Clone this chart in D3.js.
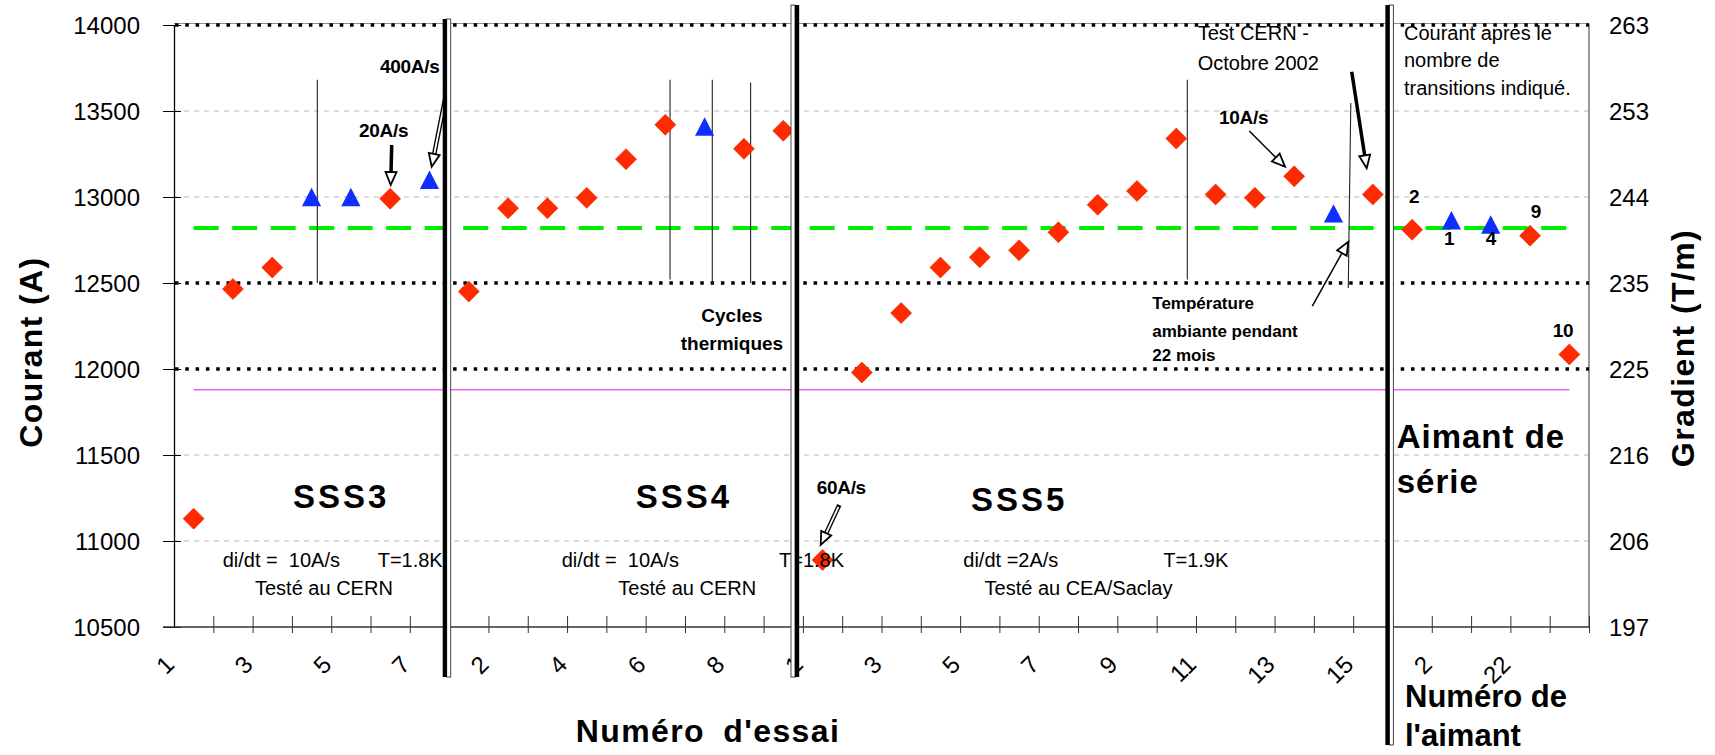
<!DOCTYPE html>
<html lang="fr">
<head>
<meta charset="UTF-8">
<title>Courant de transition SSS3 / SSS4 / SSS5</title>
<script src="https://cdn.jsdelivr.net/npm/d3@7"></script>
<style>
    body { margin: 0; background: #ffffff; }
    svg { display: block; font-family: Arial, "Liberation Sans", sans-serif; }
    .tick text { font-size: 24px; fill: #000; }
    .note { font-size: 20px; white-space: pre; }
    .ann { font-size: 19px; font-weight: bold; letter-spacing: -0.3px; }
    .title { font-size: 32px; font-weight: bold; letter-spacing: 1.4px; }
</style>
</head>
<body>
<div id="chart"></div>
<script>

// --- data -----------------------------------------------------------
// x categories: test number inside each prototype, then series magnets
const sss3Labels  = ["1", "2", "3", "4", "5", "6", "7"];
const sss4Labels  = ["1", "2", "3", "4", "5", "6", "7", "8", "9"];
const sss5Labels  = ["1", "2", "3", "4", "5", "6", "7", "8", "9", "10", "11", "12", "13", "14", "15"];
const serieLabels = ["", "2", "", "22", ""];

// quench current (A), diamonds and triangles
const sss3Diamonds  = [11130, 12465, 12590, null, null, 12990, null];
const sss3Triangles = [null, null, null, 13000, 13000, null, 13100];
const sss4Diamonds  = [12450, 12935, 12935, 12995, 13220, 13420, null, 13280, 13385];
const sss4Triangles = [null, null, null, null, null, null, 13410, null, null];
const sss5Diamonds  = [10890, 11980, 12325, 12590, 12650, 12690, 12795, 12955, 13035, 13340, 13015, 12995, 13120, null, 13015];
const sss5Triangles = [null, null, null, null, null, null, null, null, null, null, null, null, null, 12905, null];
const serieDiamonds  = [12810, null, null, 12775, 12085];
const serieTriangles = [null, 12865, 12840, null, null];

// horizontal reference levels (A)
const nominalCurrent = 12820;
const lowerLevel = 11880;

// axis ticks
const currentTicks   = [10500, 11000, 11500, 12000, 12500, 13000, 13500, 14000];
const gradientLabels = ["197", "206", "216", "225", "235", "244", "253", "263"];
const dottedLevels   = [12000, 12500, 14000];
const lightLevels    = [11000, 11500, 13000, 13500];

// --- layout -----------------------------------------------------------
const width = 1715;
const height = 755;
const plotLeft = 174, plotRight = 1589, plotTop = 25, plotBottom = 627;

const xLabels   = [].concat(sss3Labels, sss4Labels, sss5Labels, serieLabels);
const diamonds  = [].concat(sss3Diamonds, sss4Diamonds, sss5Diamonds, serieDiamonds);
const triangles = [].concat(sss3Triangles, sss4Triangles, sss5Triangles, serieTriangles);
const n = xLabels.length;

const svg = d3.select('#chart')
    .append('svg')
    .attr('width', width)
    .attr('height', height);

svg.append('rect').attr('width', width).attr('height', height).attr('fill', '#ffffff');

const x = d3.scaleBand().domain(d3.range(n)).range([plotLeft, plotRight]).padding(0);
const xu = d3.scaleLinear().domain([0, n]).range([plotLeft, plotRight]);   // annotation positions
const y = d3.scaleLinear().domain([10500, 14000]).range([plotBottom, plotTop]);
const cx = (i) => x(i) + x.bandwidth() / 2;

// grid
svg.append('g').selectAll('line').data(lightLevels).join('line')
    .attr('x1', plotLeft).attr('x2', plotRight)
    .attr('y1', d => y(d)).attr('y2', d => y(d))
    .attr('stroke', '#b8b8b8').attr('stroke-width', 1).attr('stroke-dasharray', '5,5');

svg.append('line')
    .attr('x1', plotLeft).attr('x2', plotRight)
    .attr('y1', y(14000) - 1.5).attr('y2', y(14000) - 1.5)
    .attr('stroke', '#909090').attr('stroke-width', 1);
svg.append('line')
    .attr('x1', plotRight).attr('x2', plotRight)
    .attr('y1', y(14000) - 1.5).attr('y2', y(10500))
    .attr('stroke', '#555566').attr('stroke-width', 1.2);

svg.append('g').selectAll('line').data(dottedLevels).join('line')
    .attr('x1', plotLeft + 1).attr('x2', plotRight)
    .attr('y1', d => y(d)).attr('y2', d => y(d))
    .attr('stroke', '#000').attr('stroke-width', 3.5).attr('stroke-dasharray', '3.5,6.8');

// reference lines across all categories
svg.append('line')
    .attr('x1', cx(0)).attr('x2', cx(n - 1))
    .attr('y1', y(lowerLevel)).attr('y2', y(lowerLevel))
    .attr('stroke', '#f060f0').attr('stroke-width', 1.5);
svg.append('line')
    .attr('x1', cx(0)).attr('x2', cx(n - 1))
    .attr('y1', y(nominalCurrent)).attr('y2', y(nominalCurrent))
    .attr('stroke', '#00ee00').attr('stroke-width', 4).attr('stroke-dasharray', '25,13.5');

// thin annotation lines (position in category units / amperes)
const markLines = [
    { u1: 3.646, u2: 3.646, v1: 13681, v2: 12500 },
    { u1: 12.62, u2: 12.62, v1: 13681, v2: 12520 },
    { u1: 13.695, u2: 13.695, v1: 13681, v2: 12500 },
    { u1: 14.67, u2: 14.67, v1: 13665, v2: 12500 },
    { u1: 25.78, u2: 25.78, v1: 13681, v2: 12520 },
    { u1: 29.94, u2: 29.875, v1: 13547, v2: 12471 }
];
svg.append('g').selectAll('line').data(markLines).join('line')
    .attr('x1', d => xu(d.u1)).attr('x2', d => xu(d.u2))
    .attr('y1', d => y(d.v1)).attr('y2', d => y(d.v2))
    .attr('stroke', '#222').attr('stroke-width', 1.1);

// left axis
const yAxis = svg.append('g')
    .attr('transform', `translate(${plotLeft},0)`)
    .call(d3.axisLeft(y).tickValues(currentTicks).tickFormat(d3.format('d'))
        .tickSizeInner(11).tickSizeOuter(0).tickPadding(23));
yAxis.select('.domain').attr('stroke', '#000').attr('stroke-width', 1.3);
yAxis.selectAll('.tick line').attr('x2', 7).attr('x1', -11).attr('stroke', '#000');
yAxis.selectAll('.tick text').attr('dy', '0.35em');

// right axis (gradient)
const y2Axis = svg.append('g')
    .attr('transform', `translate(${plotRight},0)`)
    .call(d3.axisRight(y).tickValues(currentTicks).tickFormat((d, i) => gradientLabels[i])
        .tickSize(0).tickPadding(20));
y2Axis.select('.domain').remove();
y2Axis.selectAll('.tick text').attr('dy', '0.35em');

// bottom axis
const xAxis = svg.append('g')
    .attr('transform', `translate(0,${plotBottom})`)
    .call(d3.axisBottom(xu).tickValues(d3.range(1, n + 1)).tickFormat('')
        .tickSizeInner(6).tickSizeOuter(0));
xAxis.select('.domain').attr('d', `M${plotLeft - 11},0H${plotRight}`).attr('stroke', '#333').attr('stroke-width', 1.3);
xAxis.selectAll('.tick line').attr('y1', -11).attr('stroke', '#333');

// category labels, every second one, rotated
svg.append('g').selectAll('text')
    .data(xLabels.map((t, i) => ({ t, i })).filter(d => d.i % 2 === 0 && d.t !== ''))
    .join('text')
    .attr('transform', d => `translate(${cx(d.i) - 18},666) rotate(-45)`)
    .attr('text-anchor', 'end')
    .attr('font-size', 24)
    .text(d => d.t);

// markers
const diamondPath = 'M0,-10.5L10.5,0L0,10.5L-10.5,0Z';
const trianglePath = 'M0,-9.2L9.6,9.2L-9.6,9.2Z';

svg.append('g').selectAll('path')
    .data(diamonds.map((v, i) => ({ v, i })).filter(d => d.v !== null))
    .join('path')
    .attr('d', diamondPath)
    .attr('transform', d => `translate(${cx(d.i)},${y(d.v)})`)
    .attr('fill', '#ff2a00').attr('stroke', '#e82600').attr('stroke-width', 0.6);

svg.append('g').selectAll('path')
    .data(triangles.map((v, i) => ({ v, i })).filter(d => d.v !== null))
    .join('path')
    .attr('d', trianglePath)
    .attr('transform', d => `translate(${cx(d.i)},${y(d.v)})`)
    .attr('fill', '#0f2eff');

// text annotations (position in category units / amperes)
const notes = [
    { u: 5.241, v: 13721, t: '400A/s', c: 'ann' },
    { u: 4.707, v: 13349, t: '20A/s', c: 'ann' },
    { u: 16.351, v: 11273, t: '60A/s', c: 'ann' },
    { u: 26.586, v: 13424, t: '10A/s', c: 'ann' },
    { u: 31.42, v: 12963, t: '2', c: 'ann' },
    { u: 32.31, v: 12721, t: '1', c: 'ann' },
    { u: 33.37, v: 12721, t: '4', c: 'ann' },
    { u: 34.52, v: 12878, t: '9', c: 'ann' },
    { u: 35.08, v: 12188, t: '10', c: 'ann' },
    { u: 1.239, v: 10851, t: 'di/dt =  10A/s', c: 'note' },
    { u: 5.182, v: 10851, t: 'T=1.8K', c: 'note' },
    { u: 2.061, v: 10686, t: 'Testé au CERN', c: 'note' },
    { u: 9.864, v: 10851, t: 'di/dt =  10A/s', c: 'note' },
    { u: 15.393, v: 10851, t: 'T=1.8K', c: 'note' },
    { u: 11.304, v: 10686, t: 'Testé au CERN', c: 'note' },
    { u: 20.081, v: 10851, t: 'di/dt =2A/s', c: 'note' },
    { u: 25.169, v: 10851, t: 'T=1.9K', c: 'note' },
    { u: 20.621, v: 10686, t: 'Testé au CEA/Saclay', c: 'note' },
    { u: 26.044, v: 13913, t: 'Test CERN -', c: 'note' },
    { u: 26.044, v: 13738, t: 'Octobre 2002', c: 'note' },
    { u: 31.293, v: 13913, t: 'Courant aprés le', c: 'note' },
    { u: 31.293, v: 13758, t: 'nombre de', c: 'note' },
    { u: 31.293, v: 13593, t: 'transitions indiqué.', c: 'note' }
];
svg.append('g').selectAll('text').data(notes).join('text')
    .attr('class', d => d.c)
    .attr('x', d => xu(d.u)).attr('y', d => y(d.v))
    .text(d => d.t);

const tempNotes = [
    { u: 24.889, v: 12347, t: 'Température' },
    { u: 24.889, v: 12188, t: 'ambiante pendant' },
    { u: 24.889, v: 12048, t: '22 mois' }
];
svg.append('g').selectAll('text').data(tempNotes).join('text')
    .attr('x', d => xu(d.u)).attr('y', d => y(d.v))
    .attr('font-size', 17).attr('font-weight', 'bold')
    .text(d => d.t);

const cycleNotes = [
    { u: 14.196, v: 12275, t: 'Cycles' },
    { u: 14.196, v: 12110, t: 'thermiques' }
];
svg.append('g').selectAll('text').data(cycleNotes).join('text')
    .attr('x', d => xu(d.u)).attr('y', d => y(d.v))
    .attr('text-anchor', 'middle')
    .attr('font-size', 19).attr('font-weight', 'bold')
    .text(d => d.t);

const sectionNotes = [
    { u: 3.028, v: 11194, t: 'SSS3', ls: 3 },
    { u: 11.746, v: 11194, t: 'SSS4', ls: 3 },
    { u: 20.277, v: 11174, t: 'SSS5', ls: 3 },
    { u: 31.107, v: 11541, t: 'Aimant de', ls: 1 },
    { u: 31.107, v: 11279, t: 'série', ls: 1 }
];
svg.append('g').selectAll('text').data(sectionNotes).join('text')
    .attr('x', d => xu(d.u)).attr('y', d => y(d.v))
    .attr('font-size', 33).attr('font-weight', 'bold')
    .attr('letter-spacing', d => d.ls)
    .text(d => d.t);

// arrows (category units / amperes)
const arrows = [
    { u1: 6.978, v1: 13661, u2: 6.556, v2: 13176, kind: 'hollow' },
    { u1: 5.539, v1: 13302, u2: 5.513, v2: 13070, kind: 'thick' },
    { u1: 16.926, v1: 11209, u2: 16.453, v2: 10977, kind: 'hollow' },
    { u1: 27.357, v1: 13384, u2: 28.265, v2: 13176, kind: 'thin' },
    { u1: 29.963, v1: 13728, u2: 30.344, v2: 13167, kind: 'thick' },
    { u1: 28.96, v1: 12366, u2: 29.876, v2: 12740, kind: 'thin' }
];
const arrowLayer = svg.append('g');
arrows.forEach(a => {
    const x1 = xu(a.u1), y1 = y(a.v1), x2 = xu(a.u2), y2 = y(a.v2);
    const len = Math.hypot(x2 - x1, y2 - y1);
    const dx = (x2 - x1) / len, dy = (y2 - y1) / len;
    const head = 13, half = 5.5;
    const bx = x2 - dx * head, by = y2 - dy * head;
    const shaftW = a.kind === 'thick' ? 3.5 : (a.kind === 'hollow' ? 4.5 : 1.5);
    arrowLayer.append('line')
        .attr('x1', x1).attr('y1', y1).attr('x2', bx).attr('y2', by)
        .attr('stroke', '#000').attr('stroke-width', shaftW);
    if (a.kind === 'hollow') {
        arrowLayer.append('line')
            .attr('x1', x1 + dx * 2).attr('y1', y1 + dy * 2).attr('x2', bx).attr('y2', by)
            .attr('stroke', '#fff').attr('stroke-width', 1.8);
    }
    const pts = [
        [x2, y2],
        [bx - dy * half, by + dx * half],
        [bx + dy * half, by - dx * half]
    ];
    arrowLayer.append('path')
        .attr('d', 'M' + pts.map(p => p.join(',')).join('L') + 'Z')
        .attr('fill', '#fff').attr('stroke', '#000').attr('stroke-width', 1.8)
        .attr('stroke-linejoin', 'miter');
});

// section separators: heavy bar plus a thin outlined strip
const separators = [
    { u: 6.887, top: 14035, bottom: 10209, side: 1 },
    { u: 15.85, top: 14116, bottom: 10209, side: -1 },
    { u: 30.87, top: 14116, bottom: 9814, side: 1 }
];
const sepLayer = svg.append('g');
separators.forEach(s => {
    const xc = xu(s.u);
    sepLayer.append('rect')
        .attr('x', xc + s.side * 4 - 2).attr('width', 4)
        .attr('y', y(s.top)).attr('height', y(s.bottom) - y(s.top))
        .attr('fill', '#fff').attr('stroke', '#333').attr('stroke-width', 0.9);
    sepLayer.append('rect')
        .attr('x', xc - 2).attr('width', 4.2)
        .attr('y', y(s.top)).attr('height', y(s.bottom) - y(s.top))
        .attr('fill', '#000');
});

// axis titles
svg.append('text')
    .attr('class', 'title')
    .attr('transform', `translate(42,${(plotTop + plotBottom) / 2 + 26}) rotate(-90)`)
    .attr('text-anchor', 'middle')
    .text('Courant (A)');

svg.append('text')
    .attr('class', 'title')
    .attr('transform', `translate(1694,${(plotTop + plotBottom) / 2 + 22}) rotate(-90)`)
    .attr('text-anchor', 'middle')
    .attr('letter-spacing', 1)
    .text('Gradient (T/m)');

svg.append('text')
    .attr('class', 'title')
    .attr('x', 708).attr('y', 742)
    .attr('text-anchor', 'middle')
    .attr('word-spacing', 8)
    .text("Numéro d'essai");

svg.append('g').selectAll('text')
    .data(["Numéro de", "l'aimant"])
    .join('text')
    .attr('x', 1405).attr('y', (d, i) => 707 + i * 39)
    .attr('font-size', 31).attr('font-weight', 'bold')
    .text(d => d);

</script>
</body>
</html>
